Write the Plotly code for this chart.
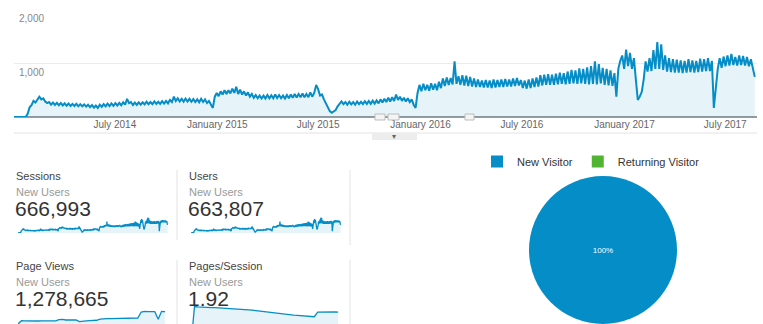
import pandas as pd
import plotly.graph_objects as go

# ---------------- data ----------------
new_users_2014_h1 = [0, 0, 0, 0, 0, 0, 0, 60, 180, 220,
                     300, 270, 340, 380, 330, 350, 290, 260, 280, 230,
                     270, 225, 265, 220, 260, 215, 255, 210, 250, 205,
                     245, 205, 245, 200, 240, 200, 235, 195, 230, 185,
                     225, 175, 215, 170, 230, 190, 240, 200, 250, 205,
                     255, 210]
new_users_2014_h2 = [260, 215, 265, 220, 275, 230, 340, 260, 280, 225,
                     270, 225, 275, 230, 275, 235, 285, 240, 280, 240,
                     290, 245, 285, 245, 295, 250, 300, 255, 320, 280,
                     380, 300, 350, 290, 340, 285, 345, 290, 340, 285,
                     335, 280, 330, 275, 340, 280, 330, 260, 300, 220,
                     170, 380]
new_users_2015_h1 = [450, 390, 480, 420, 500, 430, 500, 440, 530, 450,
                     565, 430, 510, 420, 480, 400, 460, 380, 430, 360,
                     410, 350, 400, 345, 400, 345, 410, 350, 405, 350,
                     420, 355, 410, 350, 400, 345, 410, 350, 420, 360,
                     430, 365, 430, 370, 440, 370, 430, 370, 460, 380,
                     450, 600]
new_users_2015_h2 = [520, 400, 420, 330, 260, 170, 110, 80, 100, 130,
                     200, 250, 290, 240, 280, 230, 285, 235, 280, 230,
                     290, 240, 285, 240, 295, 245, 300, 245, 305, 250,
                     310, 255, 330, 270, 340, 280, 360, 290, 370, 300,
                     420, 320, 380, 300, 360, 290, 350, 280, 330, 230,
                     170, 450]
new_users_2016_h1 = [600, 480, 620, 500, 600, 490, 630, 510, 620, 500,
                     660, 540, 720, 580, 740, 600, 730, 610, 1040, 620,
                     760, 600, 780, 590, 770, 580, 750, 570, 720, 560,
                     700, 560, 680, 550, 690, 550, 680, 540, 700, 550,
                     690, 560, 700, 560, 710, 570, 700, 570, 720, 580,
                     730, 590]
new_users_2016_h2 = [690, 540, 680, 530, 700, 540, 720, 560, 740, 570,
                     780, 590, 790, 600, 800, 600, 790, 600, 810, 610,
                     830, 620, 820, 610, 850, 620, 880, 630, 870, 620,
                     910, 630, 900, 620, 930, 610, 950, 620, 1040, 610,
                     990, 630, 920, 600, 900, 590, 870, 580, 820, 380,
                     900, 1050]
new_users_2017_h1 = [1150, 900, 1260, 950, 1200, 900, 1100, 700, 320, 380,
                     470, 700, 1040, 850, 1100, 860, 1250, 900, 1400, 900,
                     1360, 880, 1150, 850, 1100, 840, 1080, 830, 1070, 830,
                     1060, 820, 1050, 830, 1080, 840, 1060, 830, 1050, 840,
                     1090, 850, 1080, 860, 1100, 860, 1050, 170, 600, 900,
                     1100, 920]
new_users_2017_h2 = [1130, 950, 1150, 960, 1180, 970, 1120, 960, 1150, 970,
                     1140, 960, 1120, 950, 1080, 900, 750]

# Monthly sparkline values (Jan 2014 .. Aug 2017)
page_views_monthly = [0, 500, 470, 440, 420, 430, 450, 460, 470, 480, 500, 480,
                      650, 700, 600, 580, 590, 620, 350, 450, 480, 500, 540, 560,
                      720, 800, 820, 800, 810, 820, 850, 870, 890, 920, 950, 900,
                      1800, 1900, 1850, 1800, 1850, 700, 1900, 1850]
pages_per_session_monthly = [0, 2.40, 2.38, 2.36, 2.36, 2.35, 2.34, 2.33, 2.32, 2.30, 2.30, 2.28,
                             2.26, 2.25, 2.25, 2.22, 2.20, 2.20, 2.18, 2.15, 2.12, 2.10, 2.08, 2.05,
                             2.00, 1.97, 1.95, 1.92, 1.90, 1.88, 1.86, 1.84, 1.82, 1.80, 1.78, 1.76,
                             1.76, 2.05, 2.06, 2.05, 2.06, 2.05, 2.06, 2.05]

x_tick_dates = ["2014-07-01", "2015-01-01", "2015-07-01", "2016-01-01",
                "2016-07-01", "2017-01-01", "2017-07-01"]
x_tick_labels = ["July 2014", "January 2015", "July 2015", "January 2016",
                 "July 2016", "January 2017", "July 2017"]
y_ticks = [1000, 2000]
y_tick_labels = ["1,000", "2,000"]

cards = [
    ("Sessions", "New Users", "666,993"),
    ("Users", "New Users", "663,807"),
    ("Page Views", "New Users", "1,278,665"),
    ("Pages/Session", "New Users", "1.92"),
]
visitor_labels = ["New Visitor", "Returning Visitor"]
visitor_values = [100, 0]

# ---------------- build ----------------
new_users = (new_users_2014_h1 + new_users_2014_h2 + new_users_2015_h1 + new_users_2015_h2 +
             new_users_2016_h1 + new_users_2016_h2 + new_users_2017_h1 + new_users_2017_h2)
dates = pd.date_range("2014-01-01", periods=len(new_users), freq="84h")
months = pd.date_range("2014-01-01", periods=len(page_views_monthly), freq="MS")

W, H = 763, 324
BLUE = "#058dc7"
FILL = "rgba(5,141,199,0.10)"
FONT = "Liberation Sans, Arial, sans-serif"


def px(x):
    return x / W


def py(y):
    return 1 - y / H


fig = go.Figure()

# main line
fig.add_trace(go.Scatter(x=dates, y=new_users, mode="lines", line=dict(color=BLUE, width=2),
                         fill="tozeroy", fillcolor=FILL, showlegend=False, xaxis="x", yaxis="y"))

# sparklines
fig.add_trace(go.Scatter(x=dates, y=new_users, mode="lines", line=dict(color=BLUE, width=1.3),
                         fill="tozeroy", fillcolor=FILL, showlegend=False, xaxis="x2", yaxis="y2"))
fig.add_trace(go.Scatter(x=dates, y=new_users, mode="lines", line=dict(color=BLUE, width=1.3),
                         fill="tozeroy", fillcolor=FILL, showlegend=False, xaxis="x3", yaxis="y3"))
fig.add_trace(go.Scatter(x=months, y=page_views_monthly, mode="lines", line=dict(color=BLUE, width=1.3),
                         fill="tozeroy", fillcolor=FILL, showlegend=False, xaxis="x4", yaxis="y4"))
fig.add_trace(go.Scatter(x=months, y=pages_per_session_monthly, mode="lines", line=dict(color=BLUE, width=1.3),
                         fill="tozeroy", fillcolor=FILL, showlegend=False, xaxis="x5", yaxis="y5"))

# pie
fig.add_trace(go.Pie(labels=visitor_labels, values=visitor_values, sort=False,
                     marker=dict(colors=[BLUE, "#50b432"], line=dict(width=0)),
                     textinfo="percent", textposition="inside",
                     insidetextfont=dict(color="white", size=8, family=FONT),
                     domain=dict(x=[px(529), px(677)], y=[0, py(176)]),
                     showlegend=True, hoverinfo="label+percent"))

rng = ["2014-01-01", "2017-08-27"]
hidden = dict(visible=False, fixedrange=True)

fig.update_layout(
    width=W, height=H, margin=dict(l=0, r=0, t=0, b=0),
    paper_bgcolor="white", plot_bgcolor="rgba(0,0,0,0)",
    font=dict(family=FONT, color="#333"),
    xaxis=dict(domain=[px(14), px(757)], type="date", range=rng, tickvals=x_tick_dates,
               ticktext=x_tick_labels, showgrid=False, showline=False, zeroline=False, ticks="",
               tickfont=dict(size=10, color="#666"), anchor="y", fixedrange=True),
    yaxis=dict(domain=[py(117), py(10)], range=[0, 2000], tickvals=y_ticks, showticklabels=False,
               showgrid=True, gridcolor="#ebebeb", gridwidth=1, zeroline=True, zerolinecolor="#9a9a9a",
               zerolinewidth=1.5, anchor="x", fixedrange=True),
    xaxis2=dict(domain=[px(18), px(168)], range=rng, anchor="y2", **hidden),
    yaxis2=dict(domain=[py(233), py(216)], range=[0, 1550], anchor="x2", **hidden),
    xaxis3=dict(domain=[px(191), px(341)], range=rng, anchor="y3", **hidden),
    yaxis3=dict(domain=[py(233), py(216)], range=[0, 1550], anchor="x3", **hidden),
    xaxis4=dict(domain=[px(18), px(168)], range=rng, anchor="y4", **hidden),
    yaxis4=dict(domain=[0, py(306)], range=[0, 2700], anchor="x4", **hidden),
    xaxis5=dict(domain=[px(191), px(341)], range=rng, anchor="y5", **hidden),
    yaxis5=dict(domain=[0, py(305)], range=[1.3, 2.5], anchor="x5", **hidden),
    legend=dict(orientation="h", x=px(477), y=py(147), xanchor="left", yanchor="top",
                font=dict(size=11, color="#333", family=FONT), itemwidth=30,
                bgcolor="rgba(0,0,0,0)", tracegroupgap=0),
)

annotations = []
for val, lab in zip(y_ticks, y_tick_labels):
    annotations.append(dict(x=px(17), y=val, xref="paper", yref="y", text=lab, showarrow=False,
                            xanchor="left", yanchor="top", yshift=-1,
                            font=dict(size=10, color="#888")))

card_pos = [(14, 176), (187, 176), (14, 266), (187, 266)]
for (title, sub, big), (cx, cy) in zip(cards, card_pos):
    annotations.append(dict(x=px(cx), y=py(cy), xref="paper", yref="paper", text=title,
                            showarrow=False, xanchor="left", yanchor="middle",
                            font=dict(size=11, color="#444")))
    annotations.append(dict(x=px(cx), y=py(cy + 16), xref="paper", yref="paper", text=sub,
                            showarrow=False, xanchor="left", yanchor="middle",
                            font=dict(size=11, color="#9a9a9a")))
    annotations.append(dict(x=px(cx - 1), y=py(cy + 32), xref="paper", yref="paper", text=big,
                            showarrow=False, xanchor="left", yanchor="middle",
                            font=dict(size=21, color="#333")))

annotations.append(dict(x=px(394), y=py(136.5), xref="paper", yref="paper", text="▾",
                        showarrow=False, font=dict(size=8, color="#666")))

shapes = [
    dict(type="line", xref="paper", yref="paper", x0=px(14), x1=px(757), y0=py(133), y1=py(133),
         line=dict(color="#e3e3e3", width=1)),
    dict(type="rect", xref="paper", yref="paper", x0=px(372), x1=px(417), y0=py(140), y1=py(133),
         fillcolor="#ededed", line=dict(width=0)),
    dict(type="line", xref="paper", yref="paper", x0=px(177), x1=px(177), y0=py(170), y1=py(240),
         line=dict(color="#e2e2e2", width=1)),
    dict(type="line", xref="paper", yref="paper", x0=px(350), x1=px(350), y0=py(170), y1=py(245),
         line=dict(color="#e2e2e2", width=1)),
    dict(type="line", xref="paper", yref="paper", x0=px(177), x1=px(177), y0=py(260), y1=0,
         line=dict(color="#e2e2e2", width=1)),
    dict(type="line", xref="paper", yref="paper", x0=px(350), x1=px(350), y0=py(260), y1=0,
         line=dict(color="#e2e2e2", width=1)),
]
# range-selector handles on the baseline
for hx0, hx1 in [(375, 385), (388, 399), (465, 474)]:
    shapes.append(dict(type="rect", xref="paper", yref="paper", x0=px(hx0), x1=px(hx1),
                       y0=py(120), y1=py(114), fillcolor="#f4f4f4",
                       line=dict(color="#bdbdbd", width=1)))

fig.update_layout(annotations=annotations, shapes=shapes)
fig.write_html("out.html")
